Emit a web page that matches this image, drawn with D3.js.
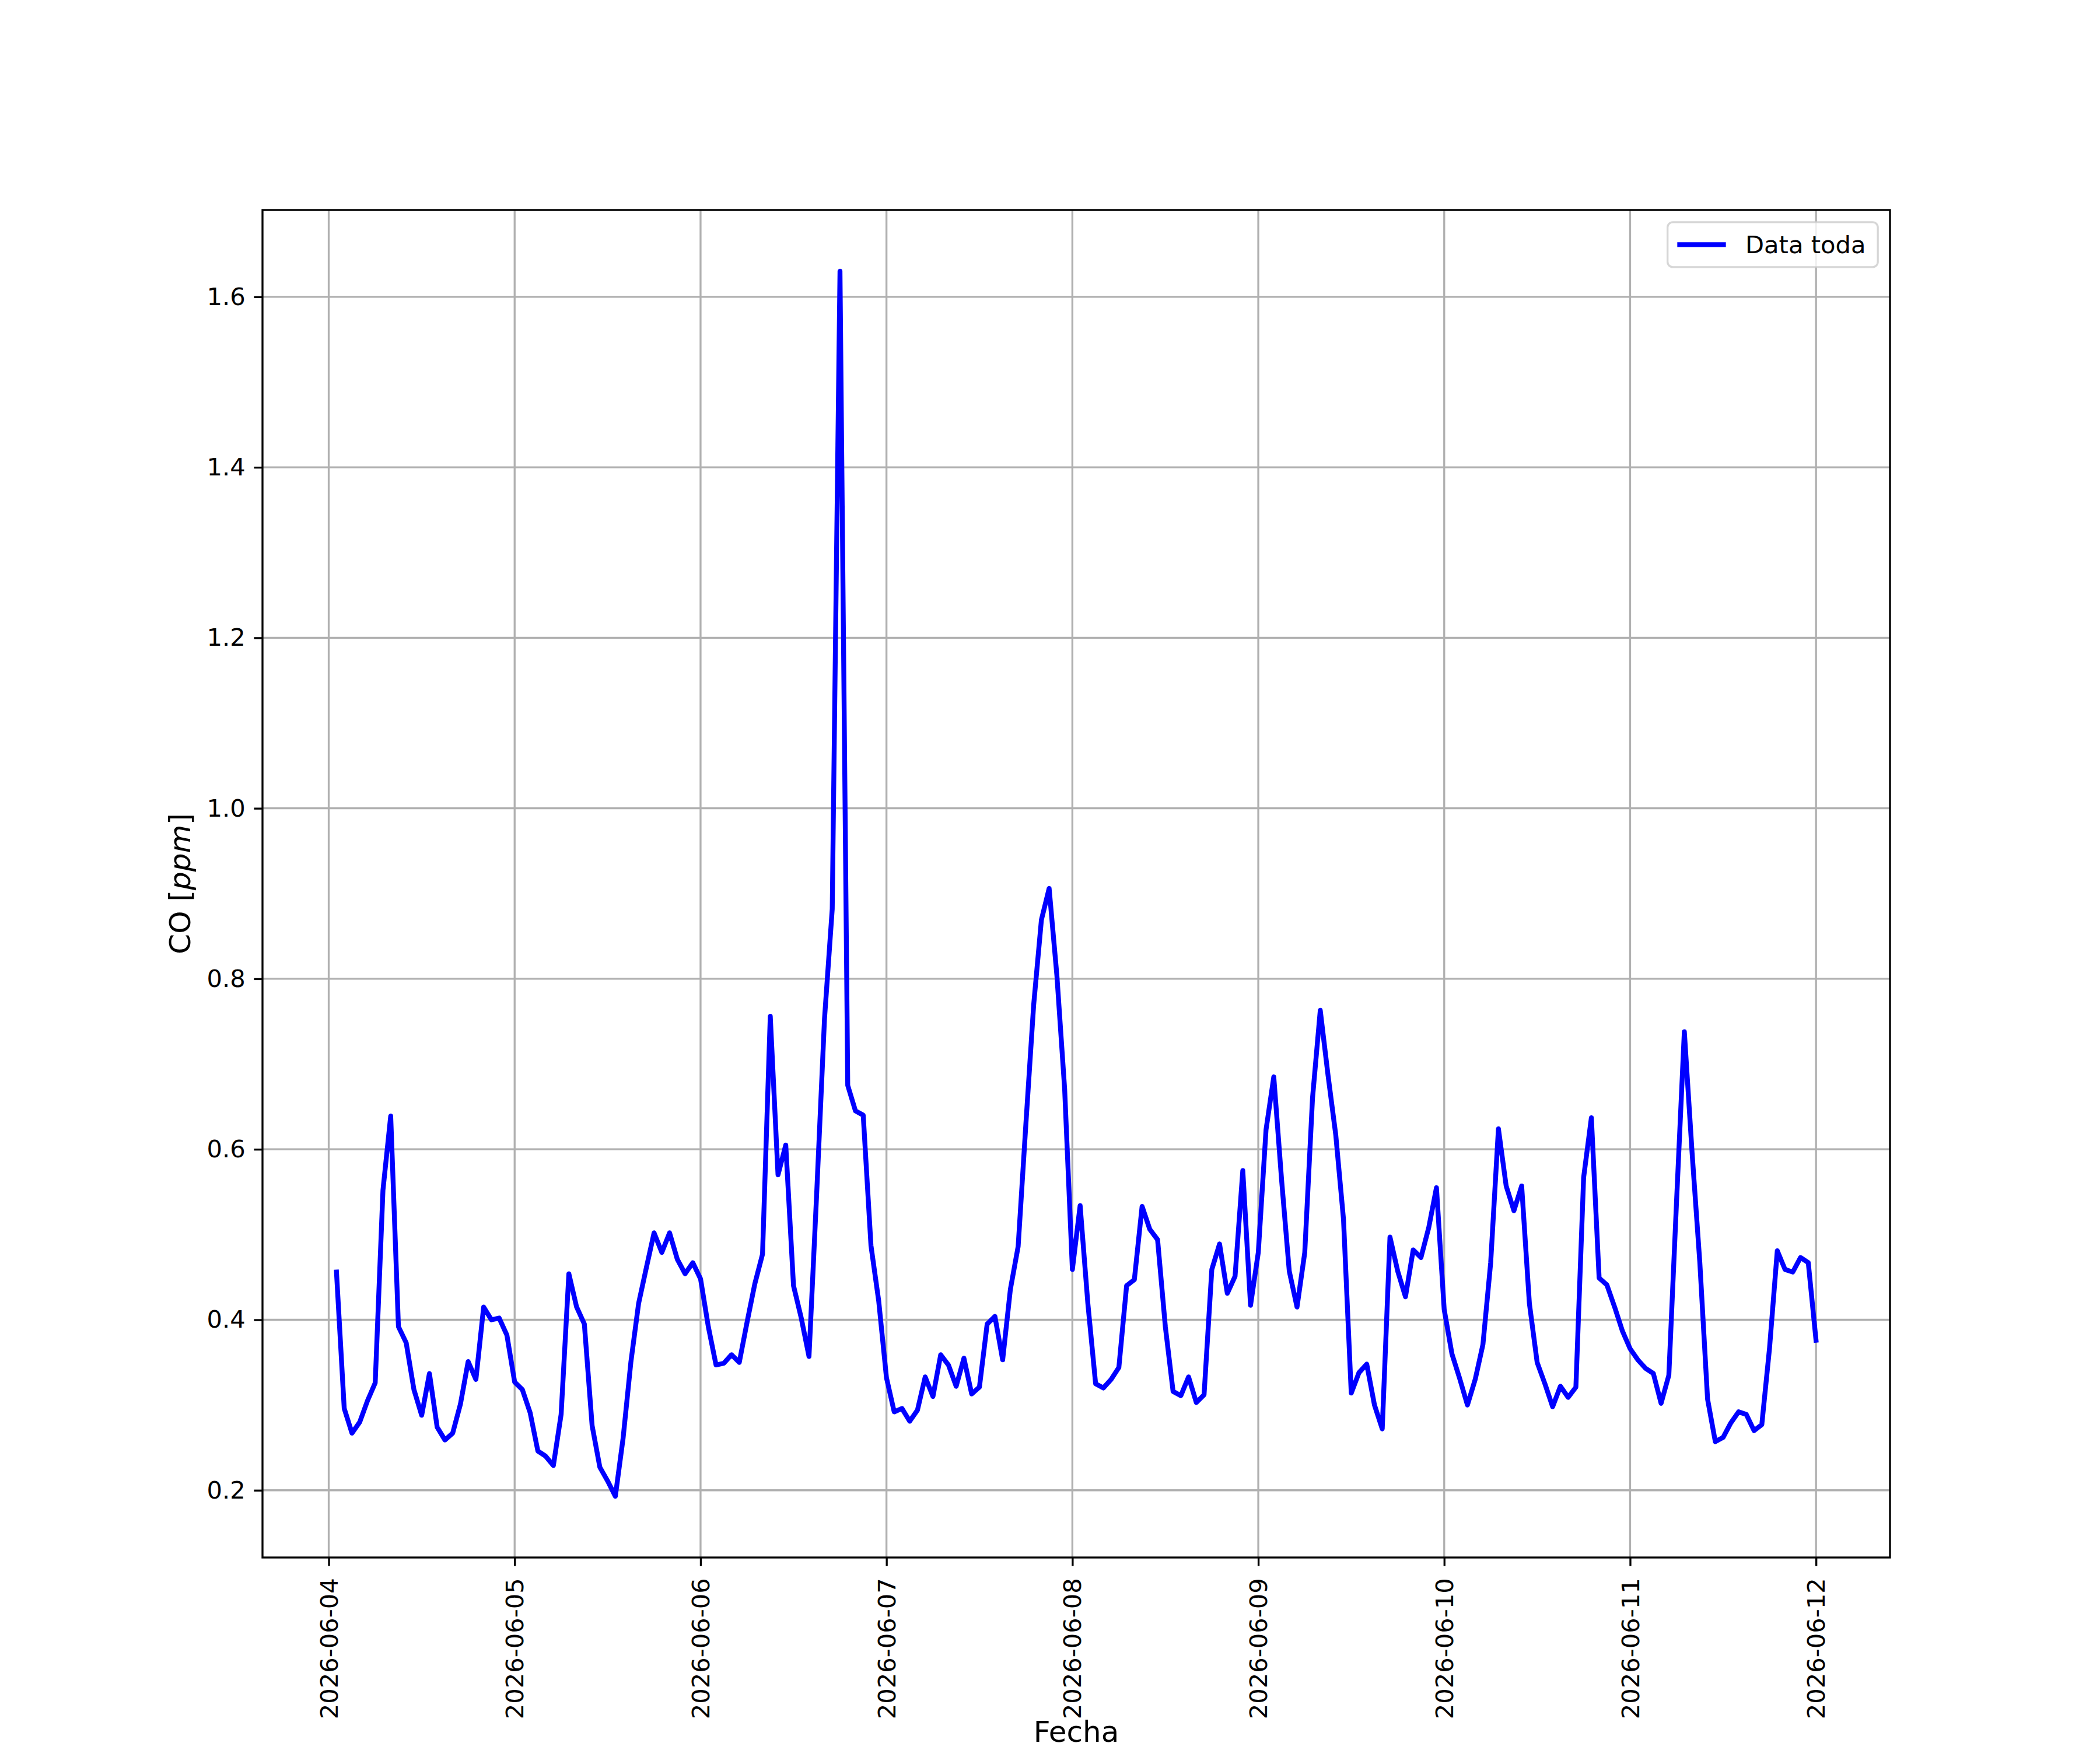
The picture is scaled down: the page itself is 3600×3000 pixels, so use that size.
<!DOCTYPE html>
<html>
<head>
<meta charset="utf-8">
<script src="https://cdn.jsdelivr.net/npm/d3@7"></script>
<style>
body { margin: 0; background: #fff; }
text { font-family: "DejaVu Sans", sans-serif; }
</style>
</head>
<body>
<div id="chart"></div>
<script>
// hourly CO readings, first one at 2026-06-04 01:00
var startTime = "2026-06-04T01:00:00Z";
var co = [
    // 06-04 01h..23h
    0.456, 0.296, 0.267, 0.280, 0.305, 0.326, 0.552, 0.639, 0.392, 0.373, 0.318, 0.288,
    0.337, 0.274, 0.259, 0.267, 0.301, 0.351, 0.330, 0.415, 0.400, 0.402, 0.382,
    // 06-05
    0.327, 0.318, 0.291, 0.246, 0.240, 0.229, 0.289, 0.454, 0.415, 0.395, 0.276, 0.227,
    0.211, 0.193, 0.261, 0.350, 0.419, 0.461, 0.502, 0.479, 0.502, 0.471, 0.454, 0.467,
    // 06-06
    0.448, 0.392, 0.347, 0.349, 0.359, 0.350, 0.397, 0.442, 0.477, 0.756, 0.570, 0.605,
    0.440, 0.402, 0.357, 0.550, 0.753, 0.882, 1.630, 0.675, 0.645, 0.640, 0.487, 0.422,
    // 06-07
    0.332, 0.292, 0.296, 0.281, 0.294, 0.333, 0.310, 0.359, 0.347, 0.322, 0.355, 0.313,
    0.321, 0.395, 0.404, 0.353, 0.436, 0.486, 0.630, 0.769, 0.869, 0.906, 0.804, 0.671,
    // 06-08
    0.459, 0.534, 0.419, 0.325, 0.320, 0.330, 0.344, 0.440, 0.447, 0.533, 0.506, 0.494,
    0.392, 0.316, 0.311, 0.333, 0.303, 0.312, 0.459, 0.489, 0.431, 0.451, 0.575, 0.417,
    // 06-09
    0.479, 0.623, 0.685, 0.565, 0.457, 0.415, 0.479, 0.660, 0.763, 0.687, 0.617, 0.518,
    0.314, 0.338, 0.348, 0.300, 0.272, 0.497, 0.457, 0.427, 0.482, 0.473, 0.508, 0.555,
    // 06-10
    0.412, 0.360, 0.331, 0.300, 0.330, 0.371, 0.467, 0.624, 0.557, 0.528, 0.557, 0.419,
    0.350, 0.325, 0.298, 0.322, 0.309, 0.321, 0.567, 0.637, 0.449, 0.441, 0.415, 0.387,
    // 06-11
    0.366, 0.353, 0.343, 0.337, 0.302, 0.335, 0.540, 0.738, 0.596, 0.467, 0.307, 0.257,
    0.262, 0.279, 0.292, 0.289, 0.270, 0.277, 0.367, 0.481, 0.459, 0.456, 0.473, 0.467,
    // 06-12 00h
    0.376
];
var yTicks = [0.2, 0.4, 0.6, 0.8, 1.0, 1.2, 1.4, 1.6];
var dayTicks = ["2026-06-04", "2026-06-05", "2026-06-06", "2026-06-07", "2026-06-08",
                "2026-06-09", "2026-06-10", "2026-06-11", "2026-06-12"];
var seriesName = "Data toda";

var pt = 300 / 72;
var W = 3600, H = 3000;
var margin = { top: 360, right: 360, bottom: 330, left: 450 };
var width = W - margin.left - margin.right;
var height = H - margin.top - margin.bottom;

var t0 = new Date(startTime).getTime();
var data = co.map(function(v, i) { return { t: new Date(t0 + i * 3600e3), v: v }; });

// matplotlib-like 5% margins
var tExt = d3.extent(data, function(d) { return d.t.getTime(); });
var tPad = (tExt[1] - tExt[0]) * 0.05;
var vExt = d3.extent(data, function(d) { return d.v; });
var vPad = (vExt[1] - vExt[0]) * 0.05;

var x = d3.scaleUtc()
    .domain([new Date(tExt[0] - tPad), new Date(tExt[1] + tPad)])
    .range([0, width]);
var y = d3.scaleLinear()
    .domain([vExt[0] - vPad, vExt[1] + vPad])
    .range([height, 0]);

var parseDay = d3.utcParse("%Y-%m-%d");
var dayDates = dayTicks.map(parseDay);

var svg = d3.select("#chart")
    .append("svg")
        .attr("width", W)
        .attr("height", H)
    .append("g")
        .attr("transform", "translate(" + margin.left + "," + margin.top + ")");

// grid
svg.selectAll(".gridx")
    .data(dayDates)
    .enter()
    .append("line")
    .attr("x1", function(d) { return x(d); })
    .attr("x2", function(d) { return x(d); })
    .attr("y1", 0)
    .attr("y2", height)
    .style("stroke", "#b0b0b0")
    .style("stroke-width", 0.8 * pt);

svg.selectAll(".gridy")
    .data(yTicks)
    .enter()
    .append("line")
    .attr("x1", 0)
    .attr("x2", width)
    .attr("y1", function(d) { return y(d); })
    .attr("y2", function(d) { return y(d); })
    .style("stroke", "#b0b0b0")
    .style("stroke-width", 0.8 * pt);

// the series
var line = d3.line()
    .x(function(d) { return x(d.t); })
    .y(function(d) { return y(d.v); });

svg.append("path")
    .datum(data)
    .attr("d", line)
    .style("fill", "none")
    .style("stroke", "#0000ff")
    .style("stroke-width", 2 * pt)
    .style("stroke-linejoin", "round")
    .style("stroke-linecap", "square");

// axes
var tickLen = 3.5 * pt;
var fontSize = 10 * pt;

var yAxis = svg.append("g")
    .call(d3.axisLeft(y)
        .tickValues(yTicks)
        .tickSize(tickLen)
        .tickPadding(tickLen)
        .tickFormat(d3.format(".1f")));

var xAxis = svg.append("g")
    .attr("transform", "translate(0," + height + ")")
    .call(d3.axisBottom(x)
        .tickValues(dayDates)
        .tickSize(tickLen)
        .tickPadding(tickLen)
        .tickFormat(d3.utcFormat("%Y-%m-%d")));

[xAxis, yAxis].forEach(function(a) {
    a.select(".domain").remove();
    a.selectAll(".tick line")
        .style("stroke", "#000")
        .style("stroke-width", 0.8 * pt);
    a.selectAll(".tick text")
        .style("font-family", "DejaVu Sans")
        .style("font-size", fontSize + "px")
        .style("fill", "#000");
});

xAxis.selectAll(".tick text")
    .attr("transform", "rotate(-90)")
    .attr("x", -(2 * tickLen + 6))
    .attr("y", 0)
    .attr("dy", "0.35em")
    .style("text-anchor", "end");

// frame
svg.append("rect")
    .attr("x", 0)
    .attr("y", 0)
    .attr("width", width)
    .attr("height", height)
    .style("fill", "none")
    .style("stroke", "#000")
    .style("stroke-width", 0.8 * pt);

// axis labels
svg.append("text")
    .attr("x", width / 2)
    .attr("y", height + 316)
    .style("text-anchor", "middle")
    .style("font-size", (12 * pt) + "px")
    .text("Fecha");

var ylab = svg.append("text")
    .attr("transform", "translate(" + (-124) + "," + (height / 2) + ")rotate(-90)")
    .style("text-anchor", "middle")
    .style("font-size", (12 * pt) + "px");
ylab.append("tspan").text("CO [");
ylab.append("tspan").style("font-style", "italic").text("ppm");
ylab.append("tspan").text("]");

// legend, upper right
var lg = svg.append("g");
var lgPad = 0.4 * fontSize, lgAx = 0.5 * fontSize;
var handleLen = 2 * fontSize, handleGap = 0.8 * fontSize;
var lgText = lg.append("text")
    .style("font-size", fontSize + "px")
    .text(seriesName);
var textW = lgText.node().getComputedTextLength();
var boxW = lgPad * 2 + handleLen + handleGap + textW + 4;
var boxH = 77;
var boxX = width - lgAx - boxW;
var boxY = lgAx;

lg.insert("rect", "text")
    .attr("x", boxX)
    .attr("y", boxY)
    .attr("width", boxW)
    .attr("height", boxH)
    .attr("rx", 9)
    .attr("ry", 9)
    .style("fill", "#fff")
    .style("fill-opacity", 0.8)
    .style("stroke", "#cccccc")
    .style("stroke-opacity", 0.8)
    .style("stroke-width", 0.8 * pt);

lg.insert("line", "text")
    .attr("x1", boxX + lgPad)
    .attr("x2", boxX + lgPad + handleLen)
    .attr("y1", boxY + boxH / 2)
    .attr("y2", boxY + boxH / 2)
    .style("stroke", "#0000ff")
    .style("stroke-width", 2 * pt);

lgText
    .attr("x", boxX + lgPad + handleLen + handleGap)
    .attr("y", boxY + boxH / 2)
    .attr("dy", "0.36em");
</script>
</body>
</html>
